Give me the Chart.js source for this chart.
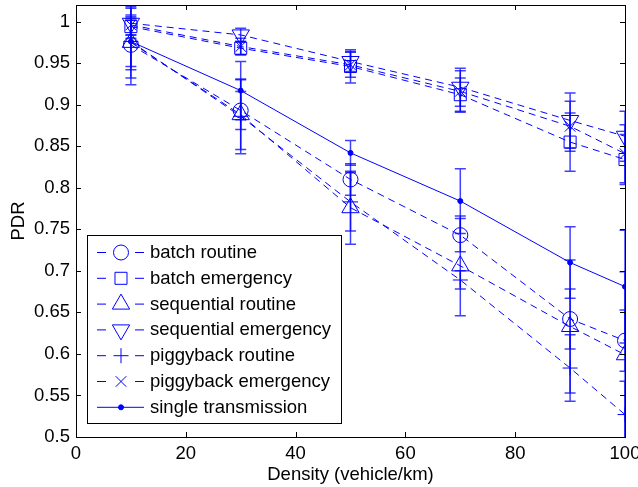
<!DOCTYPE html>
<html>
<head>
<meta charset="utf-8">
<script src="https://cdn.jsdelivr.net/npm/chart.js@4.4.0/dist/chart.umd.min.js"></script>
<style>
html,body{margin:0;padding:0;background:#fff;}
canvas{display:block;}
</style>
</head>
<body>
<canvas id="c" width="638" height="487"></canvas>
<script>
// ---------- data ----------
const densities = [10, 30, 50, 70, 90, 100];
const xTicks = [0, 20, 40, 60, 80, 100];
const yTicks = [0.5, 0.55, 0.6, 0.65, 0.7, 0.75, 0.8, 0.85, 0.9, 0.95, 1];

const seriesNames = ['batch routine', 'batch emergency', 'sequential routine', 'sequential emergency',
                     'piggyback routine', 'piggyback emergency', 'single transmission'];

const batchRoutine        = [0.972, 0.893, 0.810, 0.743, 0.642, 0.616];
const batchEmergency      = [0.994, 0.968, 0.946, 0.912, 0.855, 0.834];
const sequentialRoutine   = [0.975, 0.888, 0.776, 0.706, 0.633, 0.599];
const sequentialEmergency = [0.998, 0.984, 0.952, 0.921, 0.881, 0.862];
const piggybackRoutine    = [0.976, 0.886, 0.783, 0.689, 0.583, 0.527];
const piggybackEmergency  = [0.996, 0.970, 0.948, 0.916, 0.874, 0.841];
const singleTransmission  = [0.976, 0.917, 0.842, 0.784, 0.710, 0.681];

// error bar half-widths
const errBatchRoutine        = [0.030, 0.023, 0.019, 0.020, 0.036, 0.037];
const errBatchEmergency      = [0.010, 0.008, 0.020, 0.020, 0.035, 0.030];
const errSequentialRoutine   = [0.043, 0.042, 0.044, 0.060, 0.080, 0.100];
const errSequentialEmergency = [0.018, 0.008, 0.012, 0.023, 0.033, 0.030];
const errPiggybackRoutine    = [0.052, 0.045, 0.035, 0.011, 0.040, 0.040];
const errPiggybackEmergency  = [0.012, 0.010, 0.015, 0.025, 0.030, 0.035];
const errSingleTransmission  = [0.030, 0.035, 0.015, 0.039, 0.043, 0.068];

const xTitle = 'Density (vehicle/km)';
const yTitle = 'PDR';

// ---------- build ----------
const BLUE = '#0000ff';
const DASH = [7, 5];
function pts(vals){ return vals.map((v,i)=>({x: densities[i], y: v})); }

const valuesList = [batchRoutine, batchEmergency, sequentialRoutine, sequentialEmergency,
                    piggybackRoutine, piggybackEmergency, singleTransmission];
const errList = [errBatchRoutine, errBatchEmergency, errSequentialRoutine, errSequentialEmergency,
                 errPiggybackRoutine, errPiggybackEmergency, errSingleTransmission];
const styles = [
  {pointStyle:'circle',   radius:7.5, rot:0,   dash:DASH},
  {pointStyle:'rect',     radius:8.5, rot:0,   dash:DASH},
  {pointStyle:'triangle', radius:10,  rot:0,   dash:DASH},
  {pointStyle:'triangle', radius:10,  rot:180, dash:DASH},
  {pointStyle:'cross',    radius:7.5, rot:0,   dash:DASH},
  {pointStyle:'crossRot', radius:7.5, rot:0,   dash:DASH},
  {pointStyle:'circle',   radius:2.5, rot:0,   dash:[], filled:true}
];

const datasets = valuesList.map((vals, k) => ({
  label: seriesNames[k],
  data: pts(vals),
  errors: errList[k],
  borderColor: BLUE,
  borderWidth: 1,
  borderDash: styles[k].dash,
  backgroundColor: BLUE,
  pointStyle: styles[k].pointStyle,
  pointRadius: styles[k].radius,
  pointRotation: styles[k].rot,
  pointBorderColor: BLUE,
  pointBorderWidth: 1,
  pointBackgroundColor: styles[k].filled ? BLUE : 'rgba(0,0,0,0)',
  pointHoverRadius: styles[k].radius,
  tension: 0,
  fill: false
}));

const FONT = '"Liberation Sans", Arial, Helvetica, sans-serif';
const FS = 18.5;

const errorBarPlugin = {
  id: 'errorBars',
  beforeDatasetsDraw(chart){
    const ctx = chart.ctx, xs = chart.scales.x, ys = chart.scales.y, a = chart.chartArea;
    ctx.save();
    ctx.beginPath();
    ctx.rect(a.left, a.top, a.right - a.left + 1, a.bottom - a.top);
    ctx.clip();
    ctx.strokeStyle = 'rgba(0,0,255,0.75)';
    ctx.lineWidth = 1.5;
    chart.data.datasets.forEach(ds => {
      ds.data.forEach((p, i) => {
        const e = ds.errors[i];
        const px = xs.getPixelForValue(p.x);
        const y1 = ys.getPixelForValue(p.y + e), y2 = ys.getPixelForValue(p.y - e);
        ctx.beginPath();
        ctx.moveTo(px, y1); ctx.lineTo(px, y2);
        ctx.moveTo(px - 5.5, y1); ctx.lineTo(px + 5.5, y1);
        ctx.moveTo(px - 5.5, y2); ctx.lineTo(px + 5.5, y2);
        ctx.stroke();
      });
    });
    ctx.restore();
  }
};

const framePlugin = {
  id: 'frame',
  afterDraw(chart){
    const ctx = chart.ctx, xs = chart.scales.x, ys = chart.scales.y, a = chart.chartArea;
    ctx.save();
    // box
    ctx.strokeStyle = '#000';
    ctx.lineWidth = 1;
    ctx.strokeRect(Math.round(a.left)+0.5, Math.round(a.top)+0.5,
                   Math.round(a.right - a.left), Math.round(a.bottom - a.top));
    // inward ticks
    const TL = 5;
    ctx.beginPath();
    xTicks.forEach(v => {
      const x = Math.round(xs.getPixelForValue(v)) + 0.5;
      ctx.moveTo(x, a.bottom); ctx.lineTo(x, a.bottom - TL);
      ctx.moveTo(x, a.top); ctx.lineTo(x, a.top + TL);
    });
    yTicks.forEach(v => {
      const y = Math.round(ys.getPixelForValue(v)) + 0.5;
      ctx.moveTo(a.left, y); ctx.lineTo(a.left + TL, y);
      ctx.moveTo(a.right, y); ctx.lineTo(a.right - TL, y);
    });
    ctx.stroke();

    // axis titles
    ctx.fillStyle = '#000';
    ctx.font = FS + 'px ' + FONT;
    ctx.textAlign = 'center';
    ctx.textBaseline = 'middle';
    ctx.fillText(xTitle, (a.left + a.right) / 2, 475);
    ctx.save();
    ctx.translate(19, (a.top + a.bottom) / 2);
    ctx.rotate(-Math.PI / 2);
    ctx.fillText(yTitle, 0, 0);
    ctx.restore();

    // legend
    const L = {x: 87, y: 235, w: 254, h: 188, row: 25.8, first: 252};
    ctx.fillStyle = '#fff';
    ctx.fillRect(L.x, L.y, L.w, L.h);
    ctx.strokeStyle = '#000';
    ctx.lineWidth = 1;
    ctx.strokeRect(L.x + 0.5, L.y + 0.5, L.w, L.h);
    chart.data.datasets.forEach((ds, k) => {
      const y = L.first + k * L.row;
      const st = styles[k];
      ctx.save();
      ctx.strokeStyle = BLUE;
      ctx.lineWidth = 1;
      ctx.beginPath();
      if (st.dash.length) {
        ctx.moveTo(97, y + 0.5); ctx.lineTo(106, y + 0.5);
        ctx.moveTo(135, y + 0.5); ctx.lineTo(144, y + 0.5);
      } else {
        ctx.moveTo(97, y + 0.5); ctx.lineTo(144, y + 0.5);
      }
      ctx.stroke();
      ctx.fillStyle = st.filled ? BLUE : 'rgba(0,0,0,0)';
      Chart.helpers.drawPoint(ctx, {
        pointStyle: st.pointStyle, radius: st.radius, rotation: st.rot, borderWidth: 1
      }, 121, y + 0.5);
      ctx.restore();
      ctx.fillStyle = '#000';
      ctx.font = FS + 'px ' + FONT;
      ctx.textAlign = 'left';
      ctx.textBaseline = 'middle';
      ctx.fillText(ds.label, 150, y + 1);
    });
    ctx.restore();
  }
};

new Chart(document.getElementById('c'), {
  type: 'line',
  data: { datasets },
  options: {
    responsive: false,
    animation: false,
    devicePixelRatio: 1,
    layout: { autoPadding: false, padding: { left: 0, right: 13, top: 5, bottom: 0 } },
    plugins: { legend: { display: false }, tooltip: { enabled: false } },
    scales: {
      x: {
        type: 'linear', min: 0, max: 100,
        grid: { display: false, drawTicks: false },
        border: { display: false },
        ticks: { color: '#000', font: { size: FS, family: FONT }, padding: 6, maxRotation: 0 },
        afterBuildTicks(s){ s.ticks = xTicks.map(v => ({value: v})); },
        afterFit(s){ s.height = 50; s.paddingLeft = 0; s.paddingRight = 0; }
      },
      y: {
        type: 'linear', min: 0.5, max: 1.02,
        grid: { display: false, drawTicks: false },
        border: { display: false },
        ticks: { color: '#000', font: { size: FS, family: FONT }, padding: 6,
                 callback: v => String(parseFloat(v.toFixed(2))) },
        afterBuildTicks(s){ s.ticks = yTicks.map(v => ({value: v})); },
        afterFit(s){ s.width = 76; s.paddingTop = 0; s.paddingBottom = 0; }
      }
    }
  },
  plugins: [errorBarPlugin, framePlugin]
});
</script>
</body>
</html>
